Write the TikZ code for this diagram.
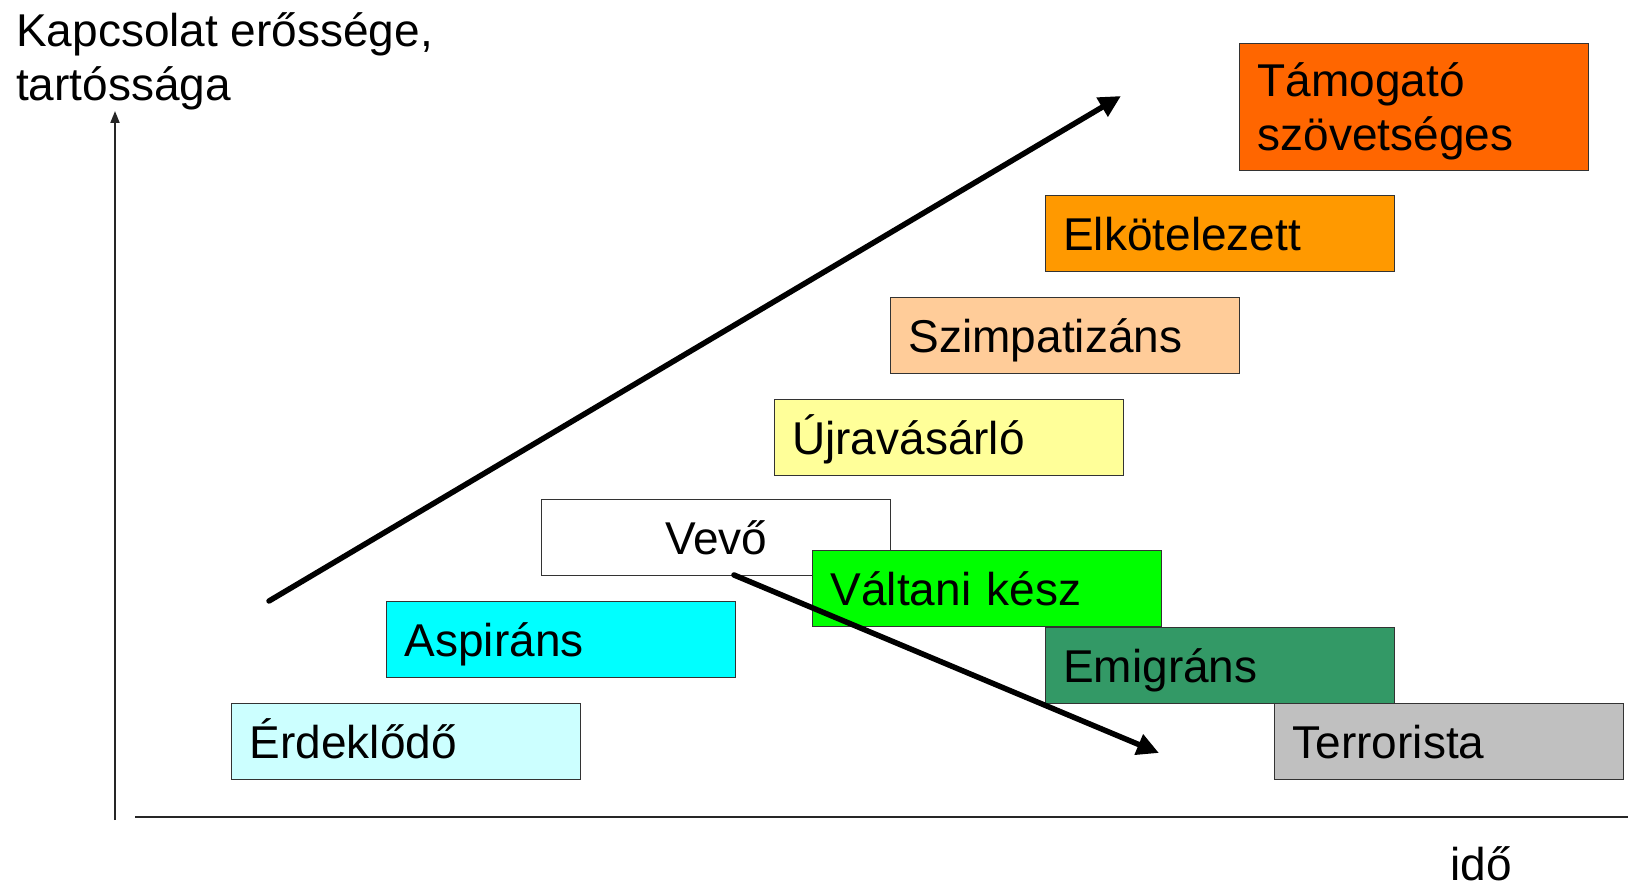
\documentclass[tikz,border=0pt]{standalone}
\usepackage{fontspec}
\setmainfont{Liberation Sans}
\usetikzlibrary{arrows.meta}

\definecolor{cInterest}{HTML}{CCFFFF}
\definecolor{cAspirant}{HTML}{00FFFF}
\definecolor{cSwitch}{HTML}{00FF00}
\definecolor{cEmigrant}{HTML}{339966}
\definecolor{cTerror}{HTML}{C0C0C0}
\definecolor{cRebuy}{HTML}{FFFF99}
\definecolor{cSympathy}{HTML}{FFCC99}
\definecolor{cCommitted}{HTML}{FF9900}
\definecolor{cAlly}{HTML}{FF6600}

\newcommand{\bigfont}{\fontsize{46}{54}\selectfont}

\tikzset{
  stage/.style={draw=black!80, line width=1.4pt, rectangle, anchor=north west,
    minimum height=76pt, text width=313pt, inner xsep=18pt, inner ysep=0pt,
    text height=33pt, text depth=0pt, align=left, font=\bigfont},
  axisline/.style={line width=1.8pt, black!85},
  trend/.style={line width=5.5pt, line cap=round, -{Triangle[length=22pt,width=21pt]}},
  label/.style={font=\bigfont, inner sep=0pt}
}

\begin{document}
\begin{tikzpicture}[x=1pt, y=-1pt]
  \useasboundingbox (0,0) rectangle (1628,890);

  % axes
  \coordinate (yfoot) at (115,820);
  \coordinate (ytip)  at (115,111);
  \coordinate (xstart) at (135,817);
  \coordinate (xend)   at (1628,817);
  \draw[axisline, -{Triangle[length=12pt,width=9pt]}] (yfoot) -- (ytip);
  \draw[axisline] (xstart) -- (xend);

  % axis labels (base anchor of a two-line node sits on its last line)
  \node[label, anchor=base west, align=left] (ylabel) at (16,101)
    {Kapcsolat erőssége,\\tartóssága};
  \node[label, anchor=base west] (xlabel) at (1450,880) {idő};

  % relationship stages
  \node[stage, fill=cInterest]  (erd)  at (231,703)    {Érdeklődő};
  \node[stage, fill=cAspirant]  (asp)  at (386,601)    {Aspiráns};
  \node[stage, fill=white, align=center] (vevo) at (541,499) {Vevő};
  \node[stage, fill=cSwitch]    (valt) at (812,550)    {Váltani kész};
  \node[stage, fill=cEmigrant]  (emig) at (1044.5,627) {Emigráns};
  \node[stage, fill=cTerror]    (terr) at (1274,703)   {Terrorista};
  \node[stage, fill=cRebuy]     (ujra) at (773.5,399)  {Újravásárló};
  \node[stage, fill=cSympathy]  (szim) at (890,297)    {Szimpatizáns};
  \node[stage, fill=cCommitted] (elk)  at (1044.5,195) {Elkötelezett};
  \node[stage, fill=cAlly, minimum height=127pt, text depth=54pt]
    (tam) at (1239,43) {Támogató\\szövetséges};

  % trends
  \coordinate (ustart) at (269,601);
  \coordinate (uend)   at (1121,96);
  \draw[trend] (ustart) -- (uend);

  \coordinate (dstart) at (734,575);
  \coordinate (dend)   at (1159,753);
  \draw[trend] (dstart) -- (dend);
\end{tikzpicture}
\end{document}
